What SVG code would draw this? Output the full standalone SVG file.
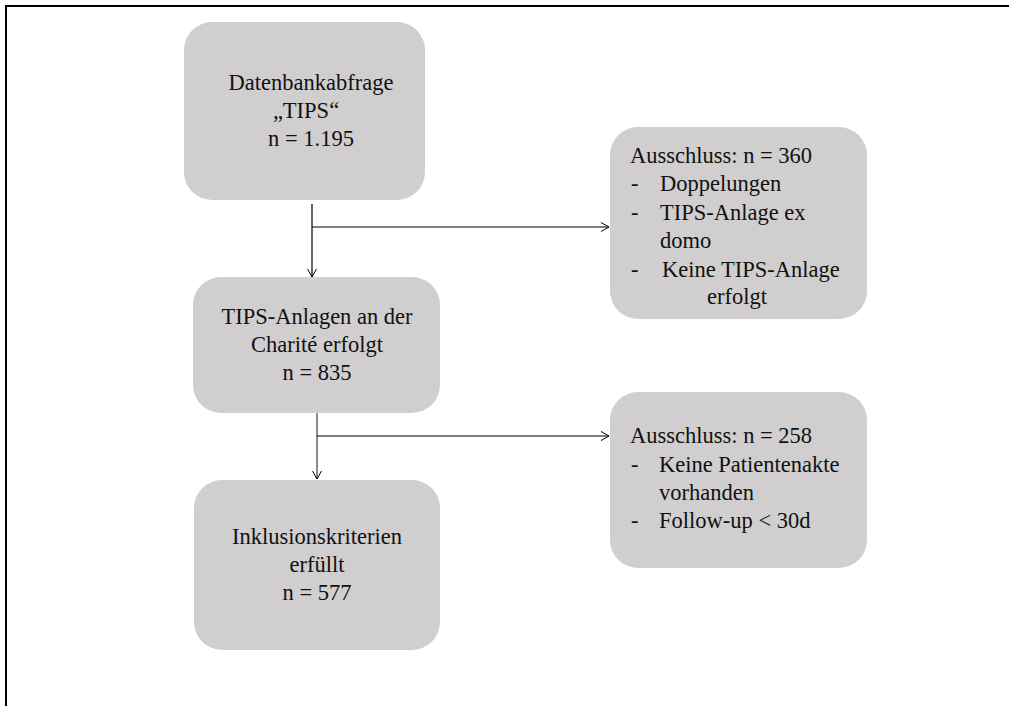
<svg xmlns="http://www.w3.org/2000/svg" width="1009" height="706" viewBox="0 0 1009 706">
<defs>
<marker id="arr" markerWidth="12" markerHeight="12" refX="9" refY="5" orient="auto" markerUnits="userSpaceOnUse">
<path d="M1,0.5 L9,5 L1,9.5" fill="none" stroke="#000" stroke-width="1"/>
</marker>
<style>
.box{fill:#d0cecf;stroke:none}
.t{font-family:"Liberation Serif","Times New Roman",serif;font-size:22.5px;fill:#111}
.c{text-anchor:middle}
.ln{fill:none;stroke:#000;stroke-width:1.2}
</style>
</defs>
<rect width="1009" height="706" fill="#fff"/>
<path d="M6,706 L6,6 L1009,6" fill="none" stroke="#000" stroke-width="2"/>
<g id="connectors">
<line class="ln" x1="312" y1="204" x2="312" y2="277" marker-end="url(#arr)"/>
<line class="ln" x1="312" y1="227" x2="609" y2="227" marker-end="url(#arr)"/>
<line class="ln" x1="317" y1="405" x2="317" y2="479" stroke="#555" marker-end="url(#arr)" style="stroke:#666;stroke-width:1.5"/>
<line class="ln" x1="317" y1="436" x2="609" y2="436" marker-end="url(#arr)"/>
</g>
<g id="n1">
<rect class="box" x="184" y="22" width="241" height="178" rx="28"/>
<text class="t c" x="311" y="90">Datenbankabfrage</text>
<text class="t c" x="306" y="118">„TIPS“</text>
<text class="t c" x="311" y="146">n = 1.195</text>
</g>
<g id="n2">
<rect class="box" x="610" y="127" width="257" height="192" rx="28"/>
<text class="t" x="630" y="163">Ausschluss: n = 360</text>
<text class="t" x="631" y="191">-</text><text class="t" x="660" y="191">Doppelungen</text>
<text class="t" x="631" y="220">-</text><text class="t" x="660" y="220">TIPS-Anlage ex</text>
<text class="t" x="660" y="248">domo</text>
<text class="t" x="631" y="277">-</text><text class="t" x="662" y="277">Keine TIPS-Anlage</text>
<text class="t" x="707" y="304">erfolgt</text>
</g>
<g id="n3">
<rect class="box" x="193" y="277" width="247" height="136" rx="28"/>
<text class="t c" x="317" y="324">TIPS-Anlagen an der</text>
<text class="t c" x="317" y="352">Charité erfolgt</text>
<text class="t c" x="317" y="380">n = 835</text>
</g>
<g id="n4">
<rect class="box" x="610" y="392" width="257" height="176" rx="28"/>
<text class="t" x="630" y="443">Ausschluss: n = 258</text>
<text class="t" x="631" y="472">-</text><text class="t" x="659" y="472">Keine Patientenakte</text>
<text class="t" x="659" y="500">vorhanden</text>
<text class="t" x="631" y="528">-</text><text class="t" x="659" y="528">Follow-up &lt; 30d</text>
</g>
<g id="n5">
<rect class="box" x="194" y="480" width="246" height="170" rx="28"/>
<text class="t c" x="317" y="544">Inklusionskriterien</text>
<text class="t c" x="317" y="572">erfüllt</text>
<text class="t c" x="317" y="600">n = 577</text>
</g>
</svg>
